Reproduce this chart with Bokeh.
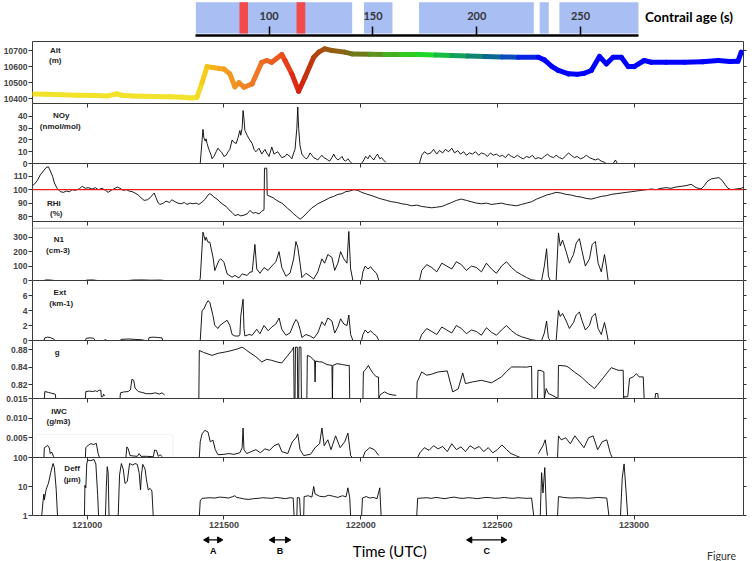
import math
from bokeh.plotting import figure
from bokeh.layouts import column
from bokeh.models import (Range1d, FixedTicker, LinearAxis, LogAxis, Span, BoxAnnotation,
                          CustomLabelingPolicy)
from bokeh.embed import file_html
from bokeh.resources import INLINE
from bokeh.core.properties import value

NaN = float("nan")
GAP = (NaN, NaN)

# ---------------- axes / ticks ----------------
# time in seconds after 12:00:00 UTC
T_START, T_END = 480, 2040
time_ticks = [600, 900, 1200, 1500, 1800]
time_tick_labels = ["121000", "121500", "122000", "122500", "123000"]

age_ticks = [100, 150, 200, 250]
age_tick_labels = ["100", "150", "200", "250"]
age_blue_start = [64.7, 145.7, 172.2, 230.3, 239.8]
age_blue_end = [140.0, 159.4, 227.5, 234.7, 277.9]
age_red_start = [85.7, 113.2]
age_red_end = [89.8, 117.4]

# ---------------- data: (time s after 12:00, value) ----------------
alt = [(480, 10430), (510, 10428), (545, 10425), (580, 10422), (620, 10420), (645, 10418),
       (660, 10428), (666, 10431), (675, 10422), (700, 10418), (743, 10415), (780, 10413),
       (810, 10410), (830, 10405), (841, 10410), (852, 10500), (863, 10600), (875, 10595),
       (890, 10588), (900, 10585), (913, 10555), (924, 10475), (933, 10500), (944, 10472),
       (962, 10493), (983, 10627), (994, 10638), (1005, 10627), (1027, 10675), (1034, 10638),
       (1049, 10555), (1064, 10447), (1078, 10534), (1097, 10658), (1108, 10690),
       (1121, 10710), (1137, 10700), (1165, 10690), (1181, 10679), (1220, 10677),
       (1253, 10675), (1290, 10676), (1327, 10675), (1365, 10672), (1400, 10669),
       (1435, 10666), (1472, 10663), (1510, 10660), (1546, 10658), (1590, 10658),
       (1603, 10642), (1620, 10600), (1634, 10576), (1656, 10555), (1675, 10552),
       (1691, 10559), (1706, 10576), (1724, 10663), (1739, 10617), (1754, 10658),
       (1772, 10658), (1787, 10600), (1800, 10600), (1822, 10638), (1838, 10627),
       (1870, 10627), (1910, 10627), (1950, 10630), (1984, 10638), (2010, 10632),
       (2028, 10634), (2035, 10690)]
alt_color_t = [841, 863, 900, 962, 1027, 1064, 1097, 1137, 1181, 1253, 1334, 1400, 1472, 1546, 1597]
alt_color_hex = ["#f2e22a", "#f6c414", "#f6a21e", "#f07e26", "#ea5420", "#dc1e12", "#b8400e",
                 "#9a5a10", "#7a6a18", "#50a020", "#1ee01e", "#14b050", "#0c7878", "#0a40d0", "#0000ff"]

noy = [(848, 0), (854, 29), (856, 22), (859, 19), (861, 21), (863, 17), (867, 12), (872, 7),
       (874, 4), (878, 6), (883, 10), (887, 13), (891, 11), (896, 9), (900, 6), (905, 7),
       (909, 10), (913, 12), (918, 20), (922, 18), (927, 17), (931, 22), (935, 28), (937, 24),
       (940, 30), (942, 45), (944, 38), (946, 28), (951, 24), (955, 21), (962, 17), (966, 12),
       (970, 10), (977, 13), (983, 8), (990, 12), (994, 9), (999, 6), (1005, 14), (1010, 8),
       (1018, 10), (1027, 5), (1034, 6), (1038, 8), (1045, 6), (1049, 4), (1053, 9),
       (1056, 12), (1060, 30), (1062, 48), (1064, 30), (1067, 15), (1071, 8), (1075, 6),
       (1080, 4), (1084, 5), (1089, 9), (1093, 7), (1097, 5), (1102, 4), (1106, 3), (1110, 5),
       (1115, 7), (1119, 5), (1124, 4), (1128, 3), (1132, 2), (1137, 5), (1141, 8), (1145, 5),
       (1150, 3), (1154, 4), (1159, 6), (1163, 3), (1167, 2), (1172, 4), (1176, 2), (1181, 0),
       GAP,
       (1202, 0), (1207, 3), (1211, 6), (1216, 4), (1220, 7), (1224, 5), (1229, 3), (1233, 6),
       (1237, 8), (1242, 4), (1246, 5), (1250, 3), (1255, 1),
       GAP,
       (1329, 0), (1334, 7), (1340, 10), (1347, 8), (1354, 9), (1360, 12), (1367, 8),
       (1373, 11), (1380, 9), (1386, 12), (1393, 10), (1400, 13), (1406, 9), (1413, 11),
       (1419, 8), (1426, 10), (1432, 7), (1439, 9), (1445, 8), (1452, 10), (1459, 7),
       (1465, 9), (1472, 8), (1478, 6), (1485, 9), (1491, 7), (1498, 8), (1505, 6), (1511, 7),
       (1518, 5), (1524, 8), (1531, 6), (1537, 5), (1544, 7), (1551, 5), (1557, 4), (1564, 6),
       (1570, 5), (1577, 7), (1583, 4), (1590, 5), (1597, 4), (1603, 6), (1610, 8), (1616, 6),
       (1623, 5), (1629, 7), (1636, 5), (1643, 4), (1649, 6), (1656, 9), (1662, 7), (1669, 5),
       (1675, 6), (1682, 4), (1689, 5), (1695, 7), (1702, 5), (1708, 4), (1715, 3), (1721, 4),
       (1728, 2), (1735, 1), (1739, 0),
       GAP,
       (1754, 0), (1759, 3), (1763, 0)]

rhi = [(480, 103), (484, 104), (491, 107), (497, 111), (504, 114), (510, 116.5), (515, 117),
       (519, 114), (524, 110), (528, 105), (534, 101), (541, 98.5), (548, 98), (554, 99),
       (561, 98.5), (567, 100), (574, 99.5), (583, 100.7), (589, 102.5), (596, 101),
       (602, 101.5), (611, 100.5), (618, 101.5), (624, 100), (633, 101), (640, 99.5),
       (646, 98), (655, 100), (661, 101), (666, 102), (672, 101), (679, 99.5), (686, 100),
       (692, 99), (699, 98.5), (705, 97.5), (712, 96), (718, 94), (725, 92), (732, 92.5),
       (738, 94), (743, 96), (747, 97.5), (751, 94), (756, 90), (760, 89), (767, 90),
       (773, 91.5), (780, 90.5), (786, 92.5), (793, 91), (799, 90), (806, 89.5), (813, 90.5),
       (819, 89), (826, 90), (832, 89.5), (839, 90), (845, 89), (852, 90.7), (859, 93),
       (865, 96), (869, 97), (874, 96), (878, 94.5), (885, 93), (891, 91), (898, 89),
       (905, 87.5), (911, 85), (918, 83), (924, 80.7), (931, 81.5), (937, 80.5), (944, 81),
       (951, 82), (957, 84.5), (964, 82.5), (970, 83), (977, 82), (983, 84), (988, 85),
       (989, 116), (994, 116), (995, 96), (1001, 95), (1008, 94), (1014, 92.5), (1021, 91),
       (1027, 90), (1034, 88), (1040, 86), (1047, 84), (1053, 82), (1060, 80), (1067, 78),
       (1073, 79.5), (1080, 82), (1086, 84), (1093, 86.5), (1100, 88), (1106, 89.5),
       (1115, 91), (1124, 92.5), (1132, 94), (1141, 95), (1150, 96.5), (1159, 97),
       (1167, 98.5), (1176, 99), (1185, 100), (1194, 99.5), (1202, 98), (1211, 97),
       (1220, 96), (1229, 95), (1237, 94), (1246, 93), (1257, 92), (1268, 91), (1279, 90.5),
       (1290, 89.5), (1301, 89), (1312, 88), (1323, 88.5), (1334, 87.5), (1345, 87),
       (1356, 86.5), (1367, 87), (1378, 87.5), (1389, 89), (1400, 90.5), (1410, 92),
       (1421, 93), (1432, 92), (1443, 91), (1454, 90), (1465, 89.5), (1476, 90), (1487, 89),
       (1498, 89.5), (1509, 90), (1520, 89), (1531, 88.5), (1542, 88), (1553, 89),
       (1564, 90), (1575, 91), (1586, 93), (1597, 94.5), (1608, 96), (1619, 97), (1629, 98),
       (1640, 97.5), (1651, 96.5), (1662, 96), (1673, 95), (1684, 94.5), (1695, 93.5),
       (1706, 93), (1717, 94), (1728, 95), (1739, 95.5), (1750, 96.5), (1761, 97),
       (1772, 97.5), (1783, 98), (1794, 98.5), (1805, 99), (1816, 99.5), (1827, 100),
       (1838, 100.5), (1848, 100), (1859, 101), (1870, 101.5), (1881, 101), (1892, 102),
       (1903, 102.5), (1914, 103), (1925, 104), (1936, 101.5), (1947, 100.5), (1954, 103),
       (1960, 106), (1969, 108), (1977, 108.5), (1986, 109), (1993, 107), (1999, 104),
       (2006, 101), (2013, 100), (2024, 100.5), (2035, 101), (2041, 102)]

n1 = [(505, 0), (510, 4), (520, 3), (528, 0), GAP, (596, 0), (600, 3), (612, 4), (622, 0), GAP,
      (690, 0), (700, 3), (720, 4), (740, 2), (760, 3), (770, 0), GAP,
      (846, 0), (848, 12), (854, 335), (859, 278), (861, 300), (865, 266), (869, 266),
      (876, 162), (880, 69), (889, 139), (893, 150), (900, 127), (907, 46), (918, 23),
      (924, 35), (933, 18), (940, 46), (951, 35), (957, 58), (962, 60), (968, 250),
      (972, 80), (979, 50), (988, 90), (997, 70), (1005, 100), (1014, 130), (1021, 200),
      (1027, 90), (1036, 30), (1045, 50), (1053, 150), (1058, 270), (1062, 230), (1067, 120),
      (1071, 20), (1080, 50), (1089, 30), (1097, 10), (1106, 60), (1115, 150), (1121, 120),
      (1128, 180), (1137, 160), (1143, 70), (1150, 120), (1156, 200), (1163, 150),
      (1170, 120), (1174, 340), (1178, 80), (1183, 0),
      GAP,
      (1202, 0), (1205, 60), (1210, 100), (1216, 80), (1222, 95), (1228, 70), (1235, 50),
      (1240, 0),
      GAP,
      (1329, 0), (1334, 70), (1345, 110), (1356, 90), (1367, 60), (1378, 120), (1389, 100),
      (1400, 80), (1410, 130), (1421, 110), (1432, 70), (1443, 100), (1454, 90), (1465, 60),
      (1476, 120), (1487, 80), (1498, 50), (1509, 100), (1520, 130), (1531, 90), (1542, 60),
      (1553, 40), (1564, 20), (1575, 5), (1586, 0),
      GAP,
      (1597, 0), (1603, 100), (1608, 220), (1612, 30), (1616, 0),
      GAP,
      (1629, 0), (1634, 330), (1638, 240), (1643, 280), (1651, 200), (1658, 120), (1667, 180),
      (1673, 260), (1680, 290), (1686, 200), (1693, 100), (1702, 150), (1708, 250),
      (1715, 270), (1721, 120), (1728, 60), (1735, 180), (1739, 100), (1743, 0)]

ext = [(505, 0), (507, 0.35), (513, 0.45), (519, 0.4), (526, 0.2), (530, 0), GAP,
       (596, 0), (598, 0.3), (606, 0.35), (614, 0.3), (618, 0), GAP, (638, 0.1), (642, 0.1), GAP,
       (672, 0), (674, 0.15), (690, 0.2), (705, 0.15), (720, 0.1), (727, 0), GAP,
       (734, 0), (736, 0.4), (745, 0.45), (755, 0.4), (764, 0.35), (766, 0), GAP,
       (848, 0), (852, 4.0), (856, 4.2), (861, 4.9), (865, 5.3), (869, 5.1), (876, 3.3),
       (880, 2.0), (887, 1.6), (891, 2.0), (900, 2.4), (907, 2.7), (913, 2.0), (918, 0.8),
       (924, 0.6), (933, 0.6), (935, 0.8), (937, 3.3), (942, 5.5), (944, 1.6), (946, 0.6),
       (955, 0.8), (962, 0.7), (972, 1.5), (979, 0.9), (988, 2.0), (997, 1.3), (1005, 1.8),
       (1014, 2.2), (1021, 3.0), (1027, 1.5), (1036, 0.7), (1045, 1.0), (1053, 2.2),
       (1058, 2.8), (1062, 2.5), (1067, 1.5), (1071, 0.4), (1080, 0.8), (1089, 0.6),
       (1097, 0.3), (1106, 1.0), (1115, 2.5), (1121, 2.0), (1128, 3.0), (1137, 2.6),
       (1143, 1.0), (1150, 1.8), (1156, 2.9), (1163, 2.2), (1170, 2.0), (1174, 3.4),
       (1178, 0.8), (1183, 0),
       GAP,
       (1202, 0), (1205, 0.8), (1210, 1.4), (1216, 1.0), (1222, 1.3), (1228, 0.9), (1235, 0.6),
       (1240, 0),
       GAP,
       (1329, 0), (1334, 0.8), (1345, 1.6), (1356, 1.2), (1367, 0.8), (1378, 1.8), (1389, 1.4),
       (1400, 1.0), (1410, 2.0), (1421, 1.6), (1432, 0.9), (1443, 1.4), (1454, 1.2),
       (1465, 0.7), (1476, 1.7), (1487, 1.1), (1498, 0.7), (1509, 1.4), (1520, 2.0),
       (1531, 1.3), (1542, 0.8), (1553, 0.5), (1564, 0.3), (1575, 0.1), (1586, 0),
       GAP,
       (1597, 0), (1603, 1.0), (1608, 2.6), (1612, 0.3), (1616, 0),
       GAP,
       (1629, 0), (1634, 4.0), (1638, 3.2), (1643, 3.6), (1651, 2.6), (1658, 1.6), (1667, 2.4),
       (1673, 3.4), (1680, 3.8), (1686, 2.6), (1693, 1.4), (1702, 2.0), (1708, 3.2),
       (1715, 3.6), (1721, 1.6), (1728, 0.8), (1735, 2.4), (1739, 1.3), (1743, 0)]

g = [(506, 0.804), (507, 0.812), (515, 0.811), (522, 0.810), (530, 0.809), (531, 0.804), GAP,
     (596, 0.804), (597, 0.812), (605, 0.8125), (612, 0.812), (618, 0.8128), (622, 0.812),
     (626, 0.8135), (630, 0.8135), (631, 0.806), (634, 0.806), (636, 0.809), (638, 0.807), GAP,
     (672, 0.804), (673, 0.8105), (680, 0.8115), (690, 0.812), (695, 0.814), (698, 0.826),
     (702, 0.825), (705, 0.816), (712, 0.812), (720, 0.811), (730, 0.8095), (740, 0.8095),
     (750, 0.8105), (758, 0.809), (764, 0.8105), (770, 0.808), GAP,
     (845, 0.804), (846, 0.8592), (855, 0.857), (874, 0.8535), (888, 0.856), (902, 0.8573),
     (918, 0.8592), (930, 0.861), (940, 0.863), (948, 0.86), (955, 0.8573), (970, 0.852),
     (983, 0.846), (994, 0.849), (1005, 0.8478), (1016, 0.846), (1027, 0.8448), (1038, 0.852),
     (1049, 0.8592), (1053, 0.863), (1054, 0.804), (1056, 0.804), (1057, 0.863),
     (1061, 0.863), (1062, 0.804), (1064, 0.804), (1065, 0.863), (1069, 0.863), (1070, 0.804),
     GAP,
     (1082, 0.804), (1083, 0.8535), (1090, 0.852), (1097, 0.8478), (1099, 0.8478),
     (1100, 0.823), (1101, 0.847), (1110, 0.846), (1115, 0.846), (1126, 0.843),
     (1137, 0.842), (1138, 0.804), (1139, 0.842), (1148, 0.844), (1160, 0.843),
     (1170, 0.842), (1175, 0.842), (1176, 0.804), GAP,
     (1205, 0.804), (1206, 0.8345), (1212, 0.838), (1217, 0.842), (1222, 0.837),
     (1228, 0.8325), (1234, 0.829), (1239, 0.8287), (1240, 0.804), (1242, 0.8078),
     (1252, 0.8116), (1262, 0.809), (1273, 0.8078), (1278, 0.8078), GAP,
     (1323, 0.804), (1324, 0.823), (1334, 0.8345), (1345, 0.8307), (1356, 0.832),
     (1370, 0.8345), (1390, 0.8356), (1402, 0.8116), (1414, 0.815), (1424, 0.8333),
     (1430, 0.8211), (1445, 0.823), (1465, 0.8249), (1487, 0.822), (1509, 0.8288),
     (1520, 0.835), (1531, 0.8402), (1553, 0.8402), (1564, 0.84), (1575, 0.841),
     (1576, 0.804), GAP,
     (1588, 0.804), (1589, 0.8364), (1596, 0.836), (1602, 0.8345), (1603, 0.804),
     (1607, 0.8154), (1612, 0.8097), (1620, 0.8078), (1633, 0.804), (1634, 0.842),
     (1650, 0.8413), (1655, 0.8402), (1670, 0.834), (1684, 0.8288), (1700, 0.821),
     (1713, 0.8154), (1728, 0.825), (1740, 0.833), (1750, 0.8394), (1765, 0.8364),
     (1776, 0.8364), (1777, 0.804), (1778, 0.806), (1786, 0.806), (1790, 0.827),
     (1798, 0.8288), (1805, 0.8325), (1811, 0.8288), (1820, 0.8288), (1822, 0.804), GAP,
     (1846, 0.804), (1847, 0.8097), (1852, 0.8097), (1853, 0.804)]

iwc = [(505, 0), (506, 0.0025), (510, 0.0028), (513, 0.0031), (517, 0.0024), (519, 0.001),
       (522, 0.0014), (526, 0.0003), (528, 0), GAP,
       (596, 0), (597, 0.0025), (603, 0.0032), (608, 0.0035), (614, 0.0033), (620, 0.0036),
       (624, 0.001), (627, 0), GAP,
       (685, 0), (687, 0.0027), (690, 0.0022), (694, 0.0005), (700, 0.0004), (710, 0.0003),
       (714, 0.001), (718, 0.0003), (730, 0.0003), (745, 0.0002), (748, 0.0019),
       (752, 0.0018), (756, 0.0003), (760, 0.0007), (765, 0.0002), GAP,
       (846, 0), (848, 0.004), (852, 0.006), (858, 0.0069), (865, 0.0065), (870, 0.004),
       (876, 0.0044), (881, 0.002), (887, 0.0007), (900, 0.0008), (911, 0.001),
       (922, 0.0008), (935, 0.0012), (940, 0.0025), (942, 0.0075), (944, 0.002), (950, 0.001),
       (960, 0.0015), (970, 0.002), (980, 0.0012), (990, 0.0022), (1000, 0.0018),
       (1010, 0.003), (1020, 0.0035), (1027, 0.0015), (1040, 0.001), (1050, 0.004),
       (1058, 0.005), (1062, 0.006), (1067, 0.002), (1075, 0.0005), (1090, 0.0008),
       (1100, 0.0025), (1110, 0.0035), (1115, 0.0075), (1120, 0.003), (1128, 0.0045),
       (1135, 0.002), (1145, 0.0055), (1155, 0.0025), (1165, 0.004), (1172, 0.0062),
       (1178, 0.0005), (1182, 0), GAP,
       (1205, 0), (1210, 0.0015), (1220, 0.0025), (1230, 0.002), (1240, 0.0005), GAP,
       (1325, 0), (1330, 0.0012), (1340, 0.0025), (1350, 0.0018), (1360, 0.003), (1370, 0.0022),
       (1380, 0.0028), (1390, 0.0015), (1400, 0.0035), (1410, 0.002), (1420, 0.0027),
       (1430, 0.0015), (1440, 0.003), (1450, 0.0022), (1460, 0.0028), (1470, 0.0015),
       (1480, 0.0025), (1490, 0.0012), (1500, 0.002), (1510, 0.0032), (1520, 0.002),
       (1530, 0.001), (1540, 0.0005), (1550, 0), GAP,
       (1590, 0.001), (1600, 0.003), (1605, 0.0045), (1610, 0.0005), GAP,
       (1632, 0), (1634, 0.0055), (1640, 0.0045), (1650, 0.005), (1660, 0.0035),
       (1670, 0.0055), (1680, 0.004), (1690, 0.0025), (1700, 0.005), (1710, 0.0055),
       (1720, 0.002), (1730, 0.004), (1740, 0.0045), (1748, 0.001), (1752, 0)]

deff = [(500, 0.9), (503, 3), (505, 5.5), (506, 3.5), (510, 8), (515, 13), (520, 30),
        (525, 62), (528, 45), (532, 8), (535, 0.9), GAP,
        (594, 0.9), (595, 11), (597, 9), (599, 60), (601, 81), (608, 78), (615, 85), (619, 60),
        (623, 5), (625, 0.9), GAP,
        (640, 0.9), (642, 10), (644, 48), (646, 30), (648, 0.9), GAP,
        (668, 0.9), (671, 25), (675, 62), (679, 40), (683, 12.8), (688, 15), (693, 62),
        (700, 55), (705, 62), (710, 58), (714, 30), (717, 7.6), (719, 25), (722, 58), (727, 40),
        (730, 17), (734, 7.6), (738, 8.6), (742, 7), (745, 0.9), GAP,
        (846, 0.9), (848, 3.2), (852, 3.9), (860, 4.0), (870, 4.1), (880, 4.0), (890, 4.3),
        (900, 4.2), (910, 4.0), (918, 4.4), (924, 4.8), (928, 4.2), (935, 4.0), (945, 3.7),
        (955, 3.6), (965, 3.8), (975, 3.9), (985, 4.1), (995, 4.0), (1005, 3.9), (1015, 4.2),
        (1025, 4.0), (1035, 3.8), (1045, 4.1), (1052, 4.0), (1054, 0.9), GAP,
        (1060, 0.9), (1061, 4.2), (1066, 4.0), (1068, 0.9), GAP,
        (1075, 0.9), (1076, 4.5), (1085, 4.8), (1093, 4.3), (1097, 10), (1100, 5.5),
        (1110, 4.6), (1120, 4.4), (1130, 5.0), (1140, 4.6), (1150, 4.2), (1160, 4.8),
        (1168, 4.4), (1172, 9), (1176, 4.2), (1178, 0.9), GAP,
        (1202, 0.9), (1204, 4.0), (1212, 4.5), (1220, 4.0), (1228, 4.2), (1236, 3.8),
        (1242, 9), (1245, 0.9), GAP,
        (1323, 0.9), (1325, 3.9), (1335, 4.0), (1345, 4.1), (1355, 3.9), (1365, 4.2),
        (1375, 4.0), (1385, 3.8), (1395, 4.1), (1405, 4.3), (1415, 4.0), (1425, 3.9),
        (1435, 4.1), (1445, 4.0), (1455, 3.8), (1465, 4.0), (1475, 4.2), (1485, 4.1),
        (1495, 3.9), (1505, 4.0), (1515, 4.2), (1525, 4.0), (1535, 3.9), (1545, 4.1),
        (1555, 4.0), (1565, 3.9), (1575, 4.0), (1580, 0.9), GAP,
        (1594, 0.9), (1597, 30), (1600, 6), (1604, 45), (1608, 0.9), GAP,
        (1632, 0.9), (1634, 4.5), (1645, 4.2), (1660, 4.0), (1680, 4.1), (1700, 3.9),
        (1720, 4.2), (1740, 4.0), (1745, 0.9), GAP,
        (1770, 0.9), (1774, 20), (1778, 60), (1782, 8), (1786, 0.9)]

# time intervals A, B, C
event_labels = ["A", "B", "C"]
event_start = [863, 1007, 1440]
event_end = [890, 1039, 1513]

# ---------------- styling ----------------
FONT = "Liberation Sans"
LEFT, RIGHT = 30, 9
W = 752
OV = 6  # overlap border between stacked panels

x_range = Range1d(T_START, T_END)


def split(pairs):
    return [a for a, b in pairs], [b for a, b in pairs]


def hidden_labels():
    return CustomLabelingPolicy(
        code="const n = indices.size; for (let i = 0; i < n; i++) { indices.unset(i) } return indices")


def tick_only(axis):
    axis.major_label_policy = hidden_labels()
    axis.major_label_text_font_size = "1px"
    axis.major_label_standoff = 0
    axis.minor_tick_line_color = None
    axis.axis_line_color = None
    axis.major_tick_line_color = "#333333"


def style_panel(p, yticks, ylabels, log=False):
    p.outline_line_color = "#3a3a3a"
    p.outline_line_width = 1
    p.border_fill_alpha = 0
    p.xgrid.visible = False
    p.ygrid.visible = False
    ax = p.yaxis[0]
    ax.ticker = FixedTicker(ticks=yticks)
    ax.major_label_overrides = {t: l for t, l in zip(yticks, ylabels)}
    ax.major_label_text_font = FONT
    ax.major_label_text_font_style = "bold"
    ax.major_label_text_font_size = "8.5px"
    ax.major_label_standoff = 1
    ax.major_tick_out = 4
    ax.major_tick_in = 0
    ax.minor_tick_line_color = None
    ax.axis_line_color = None
    ax.major_tick_line_color = "#333333"
    r = LogAxis(ticker=FixedTicker(ticks=yticks)) if log else LinearAxis(ticker=FixedTicker(ticks=yticks))
    tick_only(r)
    r.major_tick_out = 3
    r.major_tick_in = 0
    p.add_layout(r, "right")


def top_ticks(p):
    a = LinearAxis(ticker=FixedTicker(ticks=time_ticks))
    tick_only(a)
    a.major_tick_in = 4
    a.major_tick_out = 0
    p.add_layout(a, "above")


def make_panel(height, yr, yticks, ylabels, log=False, ticks_above=True, bottom=None):
    bb = OV if bottom is None else bottom
    p = figure(width=W, height=height + OV + bb, x_range=x_range, y_range=yr,
               y_axis_type="log" if log else "linear", x_axis_location=None,
               output_backend="svg", toolbar_location=None,
               min_border_left=LEFT, min_border_right=RIGHT, min_border_top=OV,
               min_border_bottom=bb,
               margin=(-OV, 0, -OV if bottom is None else 0, 0))
    style_panel(p, yticks, ylabels, log)
    if ticks_above:
        top_ticks(p)
    return p


def panel_label(p, t, y, text):
    p.text(x=[t], y=[y], text=[text], text_font=value(FONT), text_font_style="bold",
           text_font_size="8px", text_align="center", text_baseline="middle",
           text_color="#222222")


def black_line(p, pairs, w=0.9):
    t, v = split(pairs)
    p.line(t, v, line_color="black", line_width=w)


# ---- contrail age bar ----
pa = figure(width=W, height=35 + OV, x_range=Range1d(-14.0, 328.5), y_range=Range1d(0, 1),
            x_axis_location=None, y_axis_location=None, output_backend="svg",
            toolbar_location=None, min_border_left=LEFT, min_border_right=RIGHT,
            min_border_top=0, min_border_bottom=OV)
pa.outline_line_color = None
pa.border_fill_alpha = 0
pa.xgrid.visible = False
pa.ygrid.visible = False
pa.quad(left=age_blue_start, right=age_blue_end, bottom=0.06, top=0.95,
        fill_color="#a9bff4", line_color=None)
pa.quad(left=age_red_start, right=age_red_end, bottom=0.06, top=0.95,
        fill_color="#f24a4a", line_color=None)
aax = LinearAxis(ticker=FixedTicker(ticks=age_ticks), bounds=(64.7, 277.9))
tick_only(aax)
aax.axis_line_color = "black"
aax.major_tick_line_color = "black"
aax.major_tick_in = 9
aax.major_tick_out = 0
aax.axis_line_width = 2.5
aax.major_tick_line_width = 1.5
pa.add_layout(aax, "below")
pa.text(x=age_ticks, y=[0.56] * len(age_ticks), text=age_tick_labels,
        text_font=value("Lato"), text_font_style="bold", text_font_size="11px",
        text_align="center", text_baseline="middle", text_color="#333333")
pa.text(x=[281], y=[0.53], text=["Contrail age (s)"], text_font=value("Lato"),
        text_font_style="bold", text_font_size="13.5px", text_align="left",
        text_baseline="middle", text_color="black")

# ---- Alt ----
p1 = make_panel(62, Range1d(10371, 10756), [10400, 10500, 10600, 10700],
                ["10400", "10500", "10600", "10700"], ticks_above=False)


def hex2rgb(h):
    return tuple(int(h[i:i + 2], 16) for i in (1, 3, 5))


def color_at(t):
    if t <= alt_color_t[0]:
        return alt_color_hex[0]
    if t >= alt_color_t[-1]:
        return alt_color_hex[-1]
    for i in range(len(alt_color_t) - 1):
        a, b = alt_color_t[i], alt_color_t[i + 1]
        if a <= t <= b:
            f = (t - a) / (b - a)
            c0, c1 = hex2rgb(alt_color_hex[i]), hex2rgb(alt_color_hex[i + 1])
            return "#%02x%02x%02x" % tuple(int(round(c0[k] + f * (c1[k] - c0[k]))) for k in range(3))


alt_t, alt_v = split(alt)
seg_col = [color_at(0.5 * (alt_t[i] + alt_t[i + 1])) for i in range(len(alt_t) - 1)]
p1.segment(x0=alt_t[:-1], y0=alt_v[:-1], x1=alt_t[1:], y1=alt_v[1:], line_color=seg_col,
           line_width=5, line_cap="round")
panel_label(p1, 530, 10700, "Alt")
panel_label(p1, 530, 10636, "(m)")

# ---- NOy ----
p2 = make_panel(60, Range1d(0, 51), [0, 10, 20, 30, 40], ["0", "10", "20", "30", "40"])
black_line(p2, noy)
panel_label(p2, 543, 40.8, "NOy")
panel_label(p2, 541, 31.5, "(nmol/mol)")

# ---- RHi ----
p3 = make_panel(58, Range1d(76.3, 119.5), [80, 90, 100, 110], ["80", "90", "100", "110"])
p3.add_layout(Span(location=100, dimension="width", line_color="#e8201c", line_width=1.3))
black_line(p3, rhi)
panel_label(p3, 527, 90, "RHi")
panel_label(p3, 532, 82.2, "(%)")

# ---- N1 ----
p4 = make_panel(59, Range1d(0, 409), [0, 100, 200, 300], ["0", "100", "200", "300"])
p4.add_layout(Span(location=362, dimension="width", line_color="#d4d4d4", line_width=1.5))
black_line(p4, n1)
panel_label(p4, 538, 284, "N1")
panel_label(p4, 536, 208, "(cm-3)")

# ---- Ext ----
p5 = make_panel(60, Range1d(0, 8), [0, 2, 4, 6], ["0", "2", "4", "6"])
black_line(p5, ext)
panel_label(p5, 540, 6.44, "Ext")
panel_label(p5, 543, 4.97, "(km-1)")

# ---- g ----
p6 = make_panel(58, Range1d(0.804, 0.8706), [0.82, 0.84, 0.86], ["0.82", "0.84", "0.88"])
black_line(p6, g)
panel_label(p6, 534, 0.8569, "g")

# ---- IWC ----
p7 = make_panel(59, Range1d(0, 0.015), [0.005, 0.010, 0.015], ["0.005", "0.010", "0.015"])
p7.add_layout(BoxAnnotation(left=486, right=788, bottom=0, top=0.0058, fill_alpha=0,
                            line_color="#cfcfcf", line_width=1))
black_line(p7, iwc)
panel_label(p7, 538, 0.01157, "IWC")
panel_label(p7, 537, 0.00904, "(g/m3)")

# ---- Deff ----
p8 = make_panel(58, Range1d(1, 100), [1, 10, 100], ["1", "10", "100"], log=True, bottom=16)
black_line(p8, deff)
panel_label(p8, 567, 42, "Deff")
panel_label(p8, 567, 17.6, "(µm)")
bx = LinearAxis(ticker=FixedTicker(ticks=time_ticks))
bx.major_label_overrides = {t: l for t, l in zip(time_ticks, time_tick_labels)}
bx.major_label_text_font = FONT
bx.major_label_text_font_style = "bold"
bx.major_label_text_font_size = "9px"
bx.major_label_standoff = 2
bx.major_tick_out = 4
bx.major_tick_in = 0
bx.minor_tick_line_color = None
bx.axis_line_color = None
bx.major_tick_line_color = "#333333"
p8.add_layout(bx, "below")

# ---- annotation strip ----
pn = figure(width=W, height=30, x_range=x_range, y_range=Range1d(0, 1),
            x_axis_location=None, y_axis_location=None, output_backend="svg",
            toolbar_location=None, min_border_left=LEFT, min_border_right=RIGHT,
            min_border_top=0, min_border_bottom=0)
pn.outline_line_color = None
pn.border_fill_alpha = 0
pn.xgrid.visible = False
pn.ygrid.visible = False
AY = 0.72
pn.segment(x0=event_start, y0=[AY] * 3, x1=event_end, y1=[AY] * 3, line_color="black",
           line_width=1.3)
pn.scatter(x=event_start, y=[AY] * 3, marker="triangle", angle=math.pi / 2, size=6,
           fill_color="black", line_color="black")
pn.scatter(x=event_end, y=[AY] * 3, marker="triangle", angle=-math.pi / 2, size=6,
           fill_color="black", line_color="black")
pn.text(x=[0.5 * (a + b) for a, b in zip(event_start, event_end)], y=[0.36] * 3,
        text=event_labels, text_font=value(FONT), text_font_style="bold",
        text_font_size="9px", text_align="center", text_baseline="middle")
pn.text(x=[1264], y=[0.36], text=["Time (UTC)"], text_font=value("Lato"),
        text_font_size="15px", text_align="center", text_baseline="middle")
pn.text(x=[1960], y=[0.2], text=["Figure"], text_font=value("Lato"),
        text_font_size="10.5px", text_align="left", text_baseline="middle",
        text_color="#333333")

layout = column(pa, p1, p2, p3, p4, p5, p6, p7, p8, pn, spacing=0)
open("out.html", "w").write(file_html(layout, INLINE))
